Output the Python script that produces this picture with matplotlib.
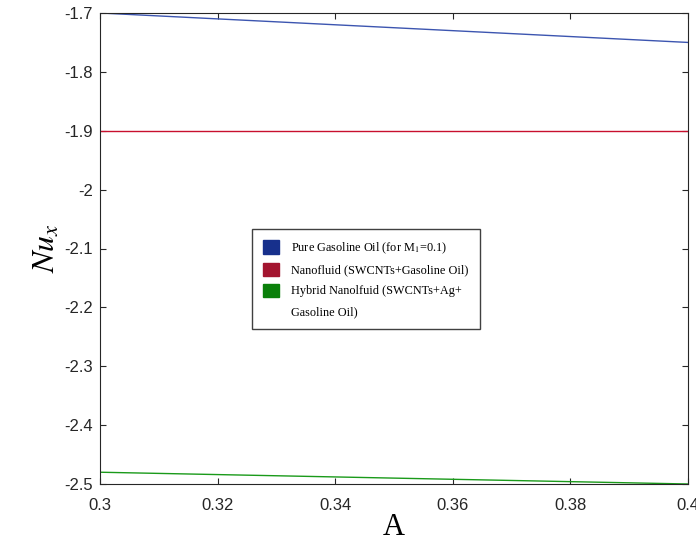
import numpy as np
import matplotlib.pyplot as plt
from matplotlib.patches import Patch

plt.rcParams['mathtext.fontset'] = 'stix'

A = [0.3, 0.4]
nu_pure = [-1.70, -1.75]
nu_nano = [-1.90, -1.90]
nu_hybrid = [-2.48, -2.50]

labels = ['Pure Gasoline Oil (for M$_1$=0.1)',
          'Nanofluid (SWCNTs+Gasoline Oil)',
          'Hybrid Nanolfuid (SWCNTs+Ag+',
          'Gasoline Oil)']
line_cols = ['#3c55b0', '#c8102e', '#1a9a1a']
patch_cols = ['#17308c', '#a3152f', '#0a800a']
xtick_labels = ['0.3', '0.32', '0.34', '0.36', '0.38', '0.4']
ytick_labels = ['-2.5', '-2.4', '-2.3', '-2.2', '-2.1', '-2', '-1.9', '-1.8', '-1.7']

fig = plt.figure(figsize=(6.96, 5.46), dpi=100)
ax = fig.add_axes([100/696, 1 - 484/546, 588/696, 471/546])

ax.plot(A, nu_pure, color=line_cols[0], lw=1)
ax.plot(A, nu_nano, color=line_cols[1], lw=1)
ax.plot(A, nu_hybrid, color=line_cols[2], lw=1)

ax.set_xlim(0.3, 0.4)
ax.set_ylim(-2.5, -1.7)
ax.set_xticks(np.linspace(0.3, 0.4, 6))
ax.set_xticklabels(xtick_labels)
ax.set_yticks(np.linspace(-2.5, -1.7, 9))
ax.set_yticklabels(ytick_labels)
ax.tick_params(direction='in', top=True, right=True, labelsize=12, length=4,
               colors='#262626', labelcolor='#262626')
ax.tick_params(axis='x', pad=10)
ax.tick_params(axis='y', pad=5)
for lab in ax.get_xticklabels() + ax.get_yticklabels():
    lab.set_family('Liberation Sans')
for s in ax.spines.values():
    s.set_color('#262626')
    s.set_linewidth(0.8)

ax.set_xlabel('A', family='Liberation Serif', fontsize=22, labelpad=0)
ax.set_ylabel('$Nu_x$', fontsize=23, labelpad=2)

# last entry is the wrapped second line of the hybrid label, no marker
handles = [Patch(facecolor=c, edgecolor=c) for c in patch_cols]
handles.append(Patch(facecolor='none', edgecolor='none'))
leg = ax.legend(handles, labels, loc='upper left', bbox_to_anchor=(0.259, 0.541),
                borderaxespad=0,
                prop={'family': 'Liberation Serif', 'size': 8.8},
                fancybox=False, edgecolor='#404040', framealpha=1,
                handlelength=1.3, handleheight=1.3, handletextpad=1.0,
                borderpad=0.9, labelspacing=0.58)
leg.get_frame().set_linewidth(1.0)

fig.savefig('out.png', dpi=100)
